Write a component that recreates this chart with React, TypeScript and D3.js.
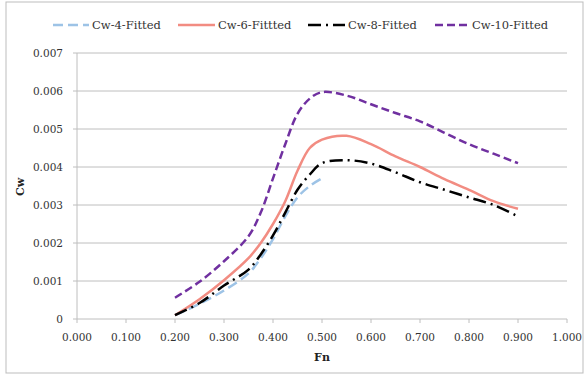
import React from "react";
import * as d3 from "d3";

// Froude number sample points
const fnFull = [0.2, 0.25, 0.3, 0.35, 0.375, 0.4, 0.425, 0.45, 0.475, 0.5, 0.55, 0.6, 0.65, 0.7, 0.75, 0.8, 0.85, 0.9];
const fnShort = [0.2, 0.25, 0.3, 0.35, 0.375, 0.4, 0.425, 0.45, 0.475, 0.5];

// Wave resistance coefficient series
const cw4 = [0.0001, 0.0004, 0.00075, 0.0012, 0.0016, 0.0021, 0.0027, 0.0032, 0.0035, 0.0037];
const cw6 = [0.0001, 0.00052, 0.00102, 0.0016, 0.002, 0.0025, 0.0031, 0.0039, 0.0045, 0.00472, 0.00482, 0.0046, 0.00428, 0.004, 0.00368, 0.0034, 0.0031, 0.0029];
const cw8 = [0.0001, 0.00042, 0.00088, 0.0013, 0.0017, 0.0022, 0.0028, 0.0034, 0.0038, 0.0041, 0.00418, 0.00409, 0.00386, 0.0036, 0.0034, 0.0032, 0.003, 0.0027];
const cw10 = [0.00056, 0.00098, 0.00152, 0.00218, 0.0028, 0.0037, 0.0046, 0.0054, 0.0058, 0.00597, 0.00588, 0.00565, 0.00542, 0.0052, 0.0049, 0.0046, 0.00435, 0.0041];

const xTicks = [0, 0.1, 0.2, 0.3, 0.4, 0.5, 0.6, 0.7, 0.8, 0.9, 1.0];
const yTicks = [0, 0.001, 0.002, 0.003, 0.004, 0.005, 0.006, 0.007];

const seriesNames = ["Cw-4-Fitted", "Cw-6-Fittted", "Cw-8-Fitted", "Cw-10-Fitted"];

const W = 587;
const H = 378;
const font = "'DejaVu Serif', serif";

export default function App() {
  const x = d3.scaleLinear().domain([0, 1]).range([77, 567]);
  const y = d3.scaleLinear().domain([0, 0.007]).range([319, 53]);

  const line = d3
    .line<[number, number]>()
    .x((d) => x(d[0]))
    .y((d) => y(d[1]))
    .curve(d3.curveCatmullRom.alpha(0.5));

  const series = [
    { name: seriesNames[0], xs: fnShort, ys: cw4, color: "#9DC3E6", dash: "10 5", width: 2.5 },
    { name: seriesNames[1], xs: fnFull, ys: cw6, color: "#F28C82", dash: "", width: 2.5 },
    { name: seriesNames[2], xs: fnFull, ys: cw8, color: "#000000", dash: "13 5 2 5", width: 2.5 },
    { name: seriesNames[3], xs: fnFull, ys: cw10, color: "#7030A0", dash: "8 4", width: 2.5 },
  ];

  const legendPos = [
    { lx: 53, tx: 92 },
    { lx: 178, tx: 218 },
    { lx: 308, tx: 348 },
    { lx: 435, tx: 472 },
  ];

  const fmtX = d3.format(".3f");
  const fmtY = (v: number) => (v === 0 ? "0" : d3.format(".3f")(v));

  return (
    <svg
      width={W}
      height={H}
      style={{ position: "absolute", left: 0, top: 0, background: "#fff" }}
      fontFamily={font}
    >
      <rect x={6} y={2} width={577} height={371} fill="#fff" stroke="#BDBDBD" strokeWidth={1} />

      {/* horizontal gridlines */}
      {yTicks.map((t) => (
        <line key={"g" + t} x1={x(0)} x2={x(1)} y1={y(t)} y2={y(t)} stroke="#BEBEBE" strokeWidth={1} />
      ))}
      {/* y axis */}
      <line x1={x(0)} x2={x(0)} y1={y(0)} y2={y(0.007)} stroke="#BEBEBE" strokeWidth={1} />
      {yTicks.map((t) => (
        <g key={"yt" + t}>
          <line x1={x(0) - 4} x2={x(0)} y1={y(t)} y2={y(t)} stroke="#BEBEBE" />
          <text x={63} y={y(t)} dy="0.35em" textAnchor="end" fontSize={10.5} fill="#333">
            {fmtY(t)}
          </text>
        </g>
      ))}
      {/* x axis ticks */}
      {xTicks.map((t) => (
        <g key={"xt" + t}>
          <line x1={x(t)} x2={x(t)} y1={y(0)} y2={y(0) + 4} stroke="#BEBEBE" />
          <text x={x(t)} y={341} textAnchor="middle" fontSize={10.5} fill="#333">
            {fmtX(t)}
          </text>
        </g>
      ))}

      {/* series */}
      {series.map((s) => (
        <path
          key={s.name}
          d={line(s.xs.map((v, i) => [v, s.ys[i]] as [number, number])) || ""}
          fill="none"
          stroke={s.color}
          strokeWidth={s.width}
          strokeDasharray={s.dash || undefined}
        />
      ))}

      {/* legend */}
      {series.map((s, i) => (
        <g key={"lg" + s.name}>
          <line
            x1={legendPos[i].lx}
            x2={legendPos[i].tx - 3}
            y1={25}
            y2={25}
            stroke={s.color}
            strokeWidth={2.5}
            strokeDasharray={s.dash || undefined}
          />
          <text x={legendPos[i].tx} y={25} dy="0.35em" fontSize={11.5} fill="#333">
            {s.name}
          </text>
        </g>
      ))}

      {/* axis titles */}
      <text x={322} y={361} textAnchor="middle" fontSize={11} fontWeight="bold" fill="#222">
        Fn
      </text>
      <text
        transform={`translate(24,187) rotate(-90)`}
        textAnchor="middle"
        fontSize={11}
        fontWeight="bold"
        fill="#222"
      >
        Cw
      </text>
    </svg>
  );
}
